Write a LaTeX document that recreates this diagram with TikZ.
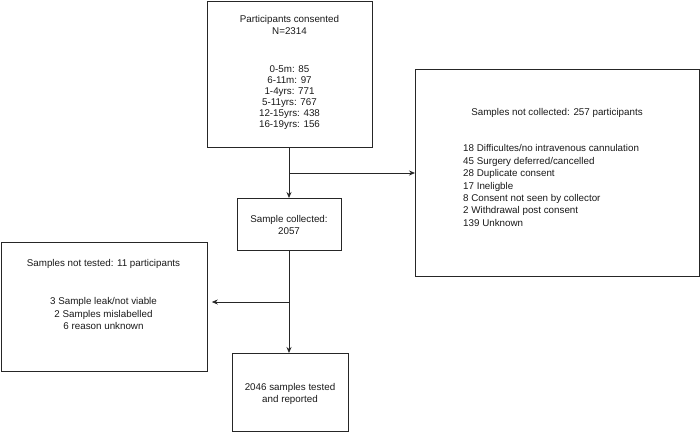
\documentclass[tikz,border=0pt]{standalone}
\usepackage{fontspec}
\setmainfont{Liberation Sans}
\usetikzlibrary{arrows.meta}
\begin{document}
\begin{tikzpicture}[x=1pt,y=-1pt,
  box/.style={draw=black!85, line width=0.8pt, inner sep=0pt, anchor=north west},
  txt/.style={font=\fontsize{9.8}{12}\selectfont, inner sep=0pt, align=center, text=black!90},
  conn/.style={draw=black!85, line width=0.8pt, -{Stealth[length=6pt,width=5pt]}}]
\useasboundingbox (0,0) rectangle (700,432);
% boxes
\node[box, minimum width=165pt, minimum height=146pt] (consent) at (207,1) {};
\node[box, minimum width=104pt, minimum height=52pt] (collected) at (237,198) {};
\node[box, minimum width=284pt, minimum height=207pt] (notcoll) at (415,69) {};
\node[box, minimum width=206pt, minimum height=129pt] (nottested) at (1,242) {};
\node[box, minimum width=116pt, minimum height=78pt] (tested) at (232,353) {};
% texts
\node[txt] (t1) at (289.5,25) {Participants consented\\N=2314};
\node[txt, font=\fontsize{9.8}{11}\selectfont] (t2) at (289.5,97.5) {0-5m: 85\\6-11m: 97\\1-4yrs: 771\\5-11yrs: 767\\12-15yrs: 438\\16-19yrs: 156};
\node[txt] (t3) at (289,225) {Sample collected:\\2057};
\node[txt] (t4) at (557,113) {Samples not collected: 257 participants};
\node[txt, align=left, anchor=west, font=\fontsize{9.8}{12.4}\selectfont] (t5) at (463,185.5) {18 Difficultes/no intravenous cannulation\\45 Surgery deferred/cancelled\\28 Duplicate consent\\17 Ineligble\\8 Consent not seen by collector\\2 Withdrawal post consent\\139 Unknown};
\node[txt] (t6) at (103.5,264) {Samples not tested: 11 participants};
\node[txt, font=\fontsize{9.8}{12.5}\selectfont] (t7) at (103.5,313.5) {3 Sample leak/not viable\\2 Samples mislabelled\\6 reason unknown};
\node[txt] (t8) at (290,394) {2046 samples tested\\and reported};
% connectors
\coordinate (b1) at (289,173);
\coordinate (b2) at (289,302);
\draw[conn] (consent.south -| b1) -- (collected.north -| b1);
\draw[conn] (b1) -- (b1 -| notcoll.west);
\draw[conn] (collected.south -| b2) -- (tested.north -| b2);
\draw[conn, shorten >=4pt] (b2) -- (b2 -| nottested.east);
\end{tikzpicture}
\end{document}
